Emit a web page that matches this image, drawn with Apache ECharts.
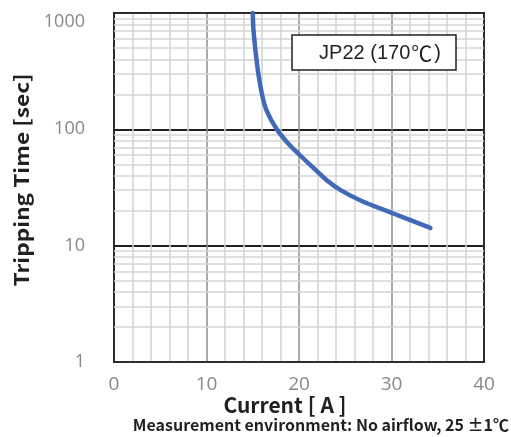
<!DOCTYPE html>
<html><head><meta charset="utf-8">
<script src="https://cdn.jsdelivr.net/npm/echarts@6/dist/echarts.min.js"></script>
<style>html,body{margin:0;padding:0;background:#fff}#c{width:511px;height:437px}</style>
</head><body><div id="c"></div>
<script>
// Data
var currentA = [15.0, 15.1, 15.5, 16.0, 16.5, 17.6, 18.8, 20.2, 21.5, 23.0, 24.5, 26.6, 30.2, 34.2];
var timeSec  = [1000, 680, 345, 200, 145, 100, 76, 59, 47, 36.5, 30, 24.6, 18.9, 14.2];
var xTicks = [0, 10, 20, 30, 40];
var yTicks = [1, 10, 100, 1000];
var yMinorGrid = [2,3,4,5,6,7,8,9, 20,30,40,50,60,70,80,90, 200,300,400,500,600,700,800,900];
var legendMain = 'JP22 (170';
var legendUnit = '\u2103';
var legendEnd = ')';
var xTitle = 'Current [ A ]';
var yTitle = 'Tripping Time [sec]';
var note = 'Measurement environment: No airflow, 25 \u00b11\u2103';

var chart = echarts.init(document.getElementById('c'), null, {renderer:'canvas'});
var pts = currentA.map(function(x,i){return [x, timeSec[i]];});
var labelFont = 'Open Sans';
var titleFont = '"Noto Sans CJK JP", "Noto Sans", sans-serif';
chart.setOption({
  animation:false,
  backgroundColor:'#fff',
  grid:{left:114, top:13, right:27, bottom:75, show:true, borderColor:'#332b2b', borderWidth:2,
        backgroundColor:'transparent', z:5, containLabel:false, outerBoundsMode:'none'},
  xAxis:{type:'value', min:0, max:40, interval:10,
    axisLine:{show:false}, axisTick:{show:false},
    axisLabel:{color:'#878787', fontSize:19, fontFamily:labelFont, margin:13,
      formatter:function(v){return xTicks.indexOf(v) >= 0 ? String(v) : '';}},
    splitLine:{show:true, lineStyle:{color:'#8f8f8f', width:1.5}},
    minorTick:{show:false, splitNumber:5},
    minorSplitLine:{show:true, lineStyle:{color:'#d4d4d4', width:1.5}}
  },
  yAxis:{type:'log', logBase:10, min:1, max:1000,
    axisLine:{show:false}, axisTick:{show:false},
    axisLabel:{color:'#878787', fontSize:18, lineHeight:17, fontFamily:labelFont, margin:29,
      formatter:function(v){
        var r = Math.round(v);
        if (yTicks.indexOf(r) < 0) return '';
        return r === 1000 ? '\n' + r : String(r);
      }},
    splitLine:{show:true, lineStyle:{color:'#231f20', width:2}}
  },
  series:[
    {type:'line', data:[], z:1, silent:true,
     markLine:{silent:true, symbol:['none','none'], label:{show:false},
       lineStyle:{color:'#d4d4d4', width:1.5, type:'solid'},
       data: yMinorGrid.map(function(v){return {yAxis:v};})}},
    {type:'line', data:pts, smooth:0.35, showSymbol:false, z:10,
     lineStyle:{color:'#4169b8', width:4.5, cap:'round'}}
  ],
  graphic:[
    {type:'rect', shape:{x:292, y:35, width:164, height:35}, style:{fill:'#fff', stroke:'#231f20', lineWidth:1.5}, z:20},
    {type:'text', x:380, y:53, z:21, style:{
      text:'{a|' + legendMain + '}{b|' + legendUnit + '}{a|' + legendEnd + '}',
      textAlign:'center', textVerticalAlign:'middle',
      rich:{
        a:{font:'20px "Liberation Sans", Arial, sans-serif', fill:'#231f20', lineHeight:22},
        b:{font:'21px "Noto Sans CJK JP", sans-serif', fill:'#231f20', lineHeight:22, padding:[0,2,0,1]}
      }}},
    {type:'text', x:285, y:405, z:21, style:{text:xTitle, textAlign:'center', textVerticalAlign:'middle', font:'bold 21px ' + titleFont, fill:'#231f20'}},
    {type:'text', x:21, y:180, rotation:Math.PI/2, scaleX:1.13, z:21, style:{text:yTitle, textAlign:'center', textVerticalAlign:'middle', font:'bold 20px ' + titleFont, fill:'#231f20'}},
    {type:'text', x:509, y:425, z:21, style:{text:note, textAlign:'right', textVerticalAlign:'middle', font:'bold 16px ' + titleFont, fill:'#231f20'}}
  ]
});
</script></body></html>
